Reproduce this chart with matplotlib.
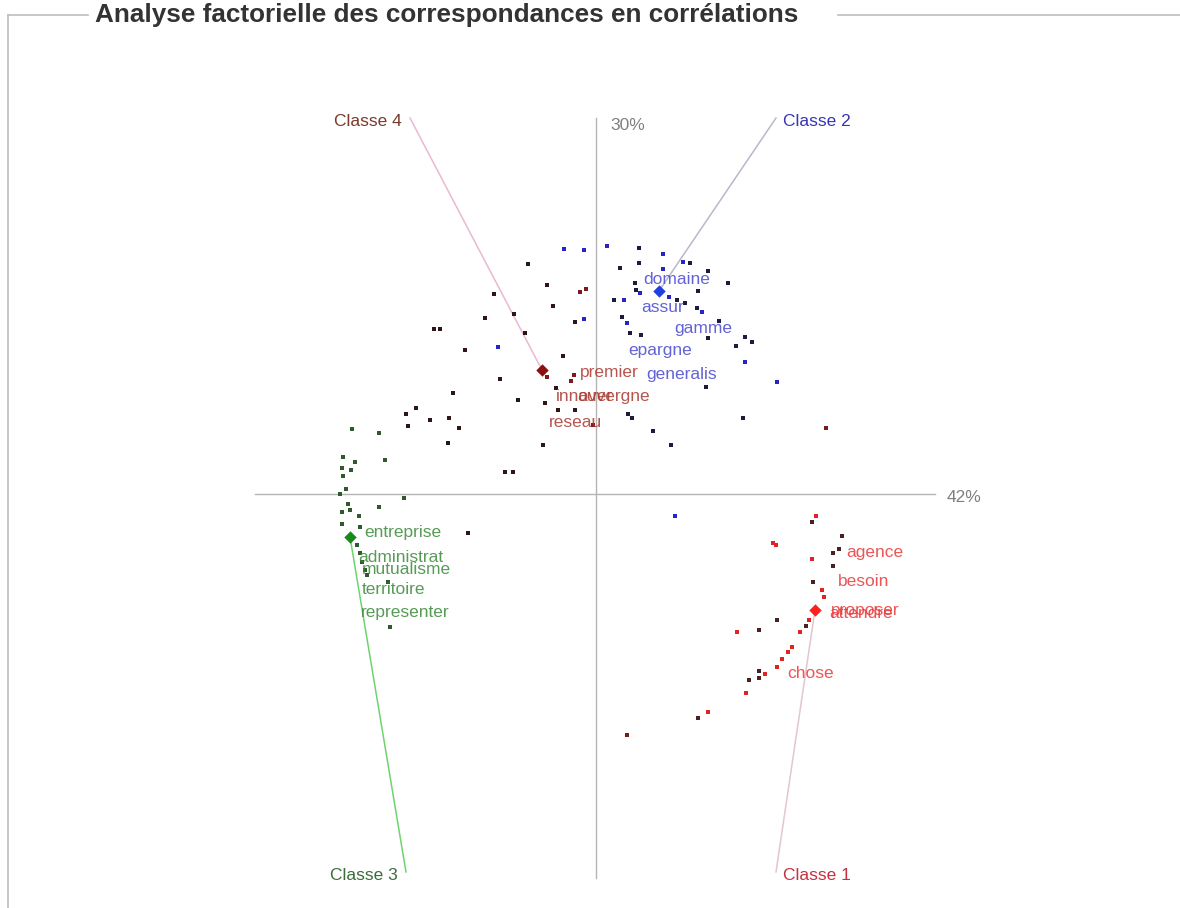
import matplotlib
matplotlib.use("Agg")
import matplotlib.pyplot as plt
from matplotlib.lines import Line2D

plt.rcParams['font.family'] = ['Liberation Sans', 'DejaVu Sans']

# ---------------- data (factor coordinates, arbitrary chart units) ----------------
# Classe 2 (blue)
c2_bright_x = [-32, -12, 11, 67, 67, 87, 28, 73, 106, 31, -12, -98, 149, 181, 79, 44]
c2_bright_y = [245, 244, 248, 240, 225, 232, 194, 197, 182, 171, 175, 147, 132, 112, -22, 201]
c2_dark_x = [43, 43, 24, 94, 112, 132, 39, 102, 18, 81, 89, 101, 26, 34, 45, 123, 112, 149, 156,
             140, 110, 147, 57, 75, 32, 36, 40]
c2_dark_y = [246, 231, 226, 231, 223, 211, 211, 203, 194, 194, 191, 186, 177, 161, 159, 173, 156,
             157, 152, 148, 107, 76, 63, 49, 80, 76, 204]
c2_center = (63, 203)

# Classe 4 (brown)
c4_dark_x = [-68, -49, -102, -82, -111, -43, -21, -71, -131, -162, -156, -143, -96, -78, -51, -166,
             -147, -137, -148, -53, -33, -40, -38, -21, -91, -83, -180, -190, -188, -128]
c4_dark_y = [230, 209, 200, 180, 176, 188, 172, 161, 144, 165, 165, 101, 115, 94, 91, 74, 76, 66,
             51, 49, 138, 106, 84, 84, 22, 22, 86, 80, 68, -39]
c4_red_x = [-16, -10, -49, -22, -25, -3, 230, 31]
c4_red_y = [202, 205, 117, 119, 113, 69, 66, -241]
c4_center = (-54, 124)

# Classe 3 (green)
c3_x = [-244, -217, -253, -241, -254, -245, -253, -211, -250, -256, -192, -248, -246, -254, -217,
        -237, -254, -236, -239, -236, -234, -231, -229, -208, -206]
c3_y = [65, 61, 37, 32, 26, 24, 18, 34, 5, 0, -4, -10, -16, -18, -13, -22, -30, -33, -51, -59,
        -68, -76, -81, -88, -133]
c3_center = (-246, -43)

# Classe 1 (red)
c1_bright_x = [220, 177, 180, 216, 226, 228, 213, 204, 141, 196, 192, 186, 181, 169, 150, 112]
c1_bright_y = [-22, -49, -51, -65, -96, -103, -126, -138, -138, -153, -158, -165, -173, -180,
               -199, -218]
c1_dark_x = [216, 246, 237, 243, 237, 217, 210, 181, 163, 163, 163, 153, 102]
c1_dark_y = [-28, -42, -59, -55, -72, -88, -132, -126, -136, -177, -184, -186, -224]
c1_center = (219, -116)

# word labels: (text, x, y)
c2_words = [("domaine", 47, 214), ("assur", 45, 186), ("gamme", 78, 165),
            ("epargne", 32, 143), ("generalis", 50, 120)]
c4_words = [("premier", -16, 122), ("innover", -40, 97), ("auvergne", -19, 97),
            ("reseau", -47, 71)]
c3_words = [("entreprise", -232, -39), ("administrat", -238, -63), ("mutualisme", -234, -75),
            ("territoire", -234, -96), ("representer", -235, -118)]
c1_words = [("agence", 250, -59), ("besoin", 242, -87), ("proposer", 235, -117),
            ("attendre", 233, -120), ("chose", 191, -180)]

# class anchors (end of the class line)
class_names = ["Classe 1", "Classe 2", "Classe 3", "Classe 4"]
class_end_x = [180, 180, -190, -186]
class_end_y = [-378, 376, -378, 376]

# axes extents and inertia labels
axis_x_range = (-341, 339)
axis_y_range = (-384, 376)
axis_x_label = "42%"
axis_y_label = "30%"
title = "Analyse factorielle des correspondances en corrélations"

# ---------------- drawing ----------------
W, H = 1180, 908
fig = plt.figure(figsize=(W / 100, H / 100), dpi=100)
ax = fig.add_axes([0, 0, 1, 1])
ax.set_xlim(-596, 584)
ax.set_ylim(-414, 494)
ax.axis("off")

# fieldset-like frame
frame_col = "#bdbdbd"
def fx(p): return p / W
def fy(p): return 1 - p / H
fig.add_artist(Line2D([fx(8), fx(8)], [fy(15), fy(908)], color=frame_col, lw=1.2))
fig.add_artist(Line2D([fx(8), fx(88)], [fy(15), fy(15)], color=frame_col, lw=1.2))
fig.add_artist(Line2D([fx(838), fx(1180)], [fy(15), fy(15)], color=frame_col, lw=1.2))
fig.text(fx(95), fy(15), title, fontsize=18.8, fontweight="bold", color="#333333",
         ha="left", va="center")

fs = 12.5
# axes lines
ax.plot(axis_x_range, [0, 0], color="#b4b4b4", lw=1, zorder=1)
ax.plot([0, 0], axis_y_range, color="#b4b4b4", lw=1, zorder=1)
ax.text(axis_x_range[1] + 12, -4, axis_x_label, fontsize=fs, color="#808080", ha="left", va="center")
ax.text(14, axis_y_range[1] - 8, axis_y_label, fontsize=fs, color="#808080", ha="left", va="center")

# class lines and labels
centers = [c1_center, c2_center, c3_center, c4_center]
line_cols = ["#e2c6d0", "#b8b8cc", "#6fd46f", "#eab8d2"]
name_cols = ["#c83040", "#3535b5", "#3c6c3c", "#7a3a2a"]
for name, ex, ey, c, lc, nc in zip(class_names, class_end_x, class_end_y, centers, line_cols, name_cols):
    ax.plot([ex, c[0]], [ey, c[1]], color=lc, lw=1.1, zorder=2)
    if ex > 0:
        ax.text(ex + 7, ey - 3, name, fontsize=fs, color=nc, ha="left", va="center")
    else:
        ax.text(ex - 8, ey - 3, name, fontsize=fs, color=nc, ha="right", va="center")

ms = 11
ax.scatter(c2_dark_x, c2_dark_y, marker="s", s=ms, color="#1c1c40", lw=0, zorder=3)
ax.scatter(c2_bright_x, c2_bright_y, marker="s", s=ms, color="#2626c8", lw=0, zorder=3)
ax.scatter(c4_dark_x, c4_dark_y, marker="s", s=ms, color="#2c1616", lw=0, zorder=3)
ax.scatter(c4_red_x, c4_red_y, marker="s", s=ms, color="#7a1c1c", lw=0, zorder=3)
ax.scatter(c3_x, c3_y, marker="s", s=ms, color="#2e5a2e", lw=0, zorder=3)
ax.scatter(c1_dark_x, c1_dark_y, marker="s", s=ms, color="#4a2222", lw=0, zorder=3)
ax.scatter(c1_bright_x, c1_bright_y, marker="s", s=ms, color="#e02424", lw=0, zorder=3)

center_cols = ["#ff2020", "#1f3fe0", "#1a8a1a", "#8b1010"]
for c, cc in zip(centers, center_cols):
    ax.scatter([c[0]], [c[1]], marker="D", s=40, color=cc, lw=0, zorder=4)

word_sets = [(c2_words, "#4848d0"), (c4_words, "#a83a30"), (c3_words, "#3a8a3a"), (c1_words, "#e83838")]
for words, col in word_sets:
    for t, x, y in words:
        ax.text(x, y, t, fontsize=fs, color=col, ha="left", va="center", alpha=0.85, zorder=5)

fig.savefig("out.png", dpi=100)
